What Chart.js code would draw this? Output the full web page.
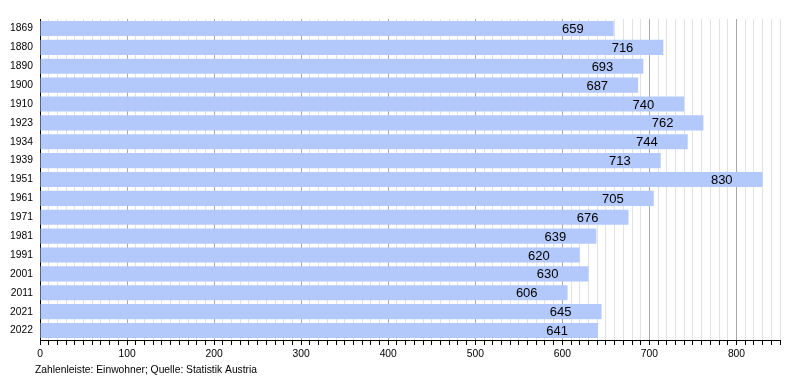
<!DOCTYPE html>
<html>
<head>
<meta charset="utf-8">
<script src="https://cdn.jsdelivr.net/npm/chart.js@4"></script>
<style>
  html, body { margin: 0; padding: 0; background: #fff; }
  #wrap { width: 800px; height: 380px; position: relative; }
</style>
</head>
<body>
<div id="wrap"><canvas id="myBarChart"></canvas></div>
<script>
const years = ['1869', '1880', '1890', '1900', '1910', '1923', '1934', '1939', '1951',
    '1961', '1971', '1981', '1991', '2001', '2011', '2021', '2022'];
const population = [659, 716, 693, 687, 740, 762, 744, 713, 830, 705, 676, 639, 620, 630, 606, 645, 641];
const footerText = 'Zahlenleiste: Einwohner; Quelle: Statistik Austria';

const fontFamily = '"Liberation Sans", Arial, Helvetica, sans-serif';

// value labels inside the bars, near the right end
const valueLabels = {
    id: 'valueLabels',
    afterDatasetsDraw(chart) {
        const ctx = chart.ctx;
        const meta = chart.getDatasetMeta(0);
        ctx.save();
        ctx.font = '13px ' + fontFamily;
        ctx.fillStyle = '#000';
        ctx.textAlign = 'right';
        ctx.textBaseline = 'middle';
        meta.data.forEach((bar, i) => {
            ctx.fillText(population[i], bar.x - 30, bar.y + 1);
        });
        ctx.restore();
    }
};

const footer = {
    id: 'footer',
    afterDraw(chart) {
        const ctx = chart.ctx;
        ctx.save();
        ctx.font = '10.3px ' + fontFamily;
        ctx.fillStyle = '#000';
        ctx.textAlign = 'left';
        ctx.textBaseline = 'middle';
        ctx.fillText(footerText, 35, 370);
        ctx.restore();
    }
};

const ctx = document.getElementById('myBarChart').getContext('2d');
window.myBarChart = new Chart(ctx, {
    type: 'bar',
    data: {
        labels: years,
        datasets: [{
            data: population,
            backgroundColor: '#b3c8fb',
            borderWidth: 0,
            barPercentage: 0.8,
            categoryPercentage: 1.0
        }]
    },
    options: {
        indexAxis: 'y',
        responsive: true,
        maintainAspectRatio: false,
        animation: false,
        layout: { padding: { top: 19, right: 20, left: 0, bottom: 0 } },
        plugins: {
            legend: { display: false },
            tooltip: { enabled: false }
        },
        scales: {
            x: {
                min: 0,
                max: 850,
                afterFit: function(scale) { scale.height = 40; },
                ticks: {
                    stepSize: 10,
                    autoSkip: false,
                    maxRotation: 0,
                    padding: 3,
                    color: '#000',
                    font: { family: fontFamily, size: 10.3 },
                    callback: function(value) {
                        return value % 100 === 0 ? value : '';
                    }
                },
                grid: {
                    color: function(c) {
                        return c.tick && c.tick.value % 100 === 0 ? '#a8a8a8' : '#e2e2e2';
                    },
                    tickColor: '#000',
                    tickLength: 5,
                    lineWidth: 1
                },
                border: { color: '#000', width: 1 }
            },
            y: {
                afterFit: function(scale) { scale.width = 40; },
                ticks: {
                    color: '#000',
                    padding: 7,
                    font: { family: fontFamily, size: 10.3 }
                },
                grid: { display: false, drawTicks: false },
                border: { color: '#000', width: 1 }
            }
        }
    },
    plugins: [valueLabels, footer]
});
</script>
</body>
</html>
